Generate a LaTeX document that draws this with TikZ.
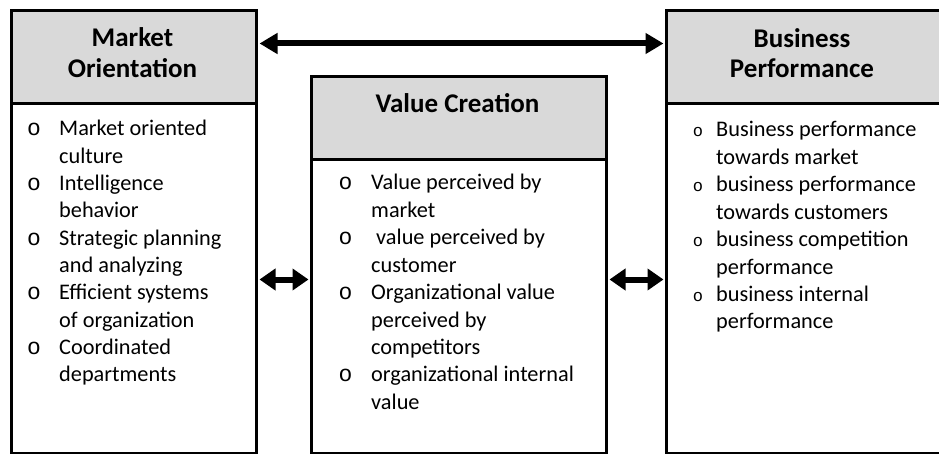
\documentclass[tikz,border=0pt]{standalone}
\usepackage{fontspec}
\setmainfont{Carlito}
\newfontfamily\bulletfont{Liberation Mono}
\usetikzlibrary{arrows.meta}
\definecolor{hdrgray}{HTML}{D9D9D9}
\begin{document}
\begin{tikzpicture}[x=1pt,y=-1pt,
  frame/.style={draw=black,line width=3pt,fill=white,inner sep=0pt,anchor=north west},
  hdr/.style={frame,fill=hdrgray},
  hdrtext/.style={font=\bfseries\fontsize{27}{31}\selectfont,inner sep=0pt,anchor=base},
  bodytext/.style={font=\fontsize{22.3}{27.4}\selectfont,inner sep=0pt,anchor=base west},
  bul/.style={font=\bulletfont\fontsize{23}{23}\selectfont,inner sep=0pt,anchor=base},
  bulsmall/.style={bul,font=\bulletfont\fontsize{17}{17}\selectfont},
  link/.style={line width=6pt,{Triangle[length=16pt,width=21pt]}-{Triangle[length=16pt,width=21pt]},shorten <=1.5pt,shorten >=1.5pt},
  toplink/.style={line width=6pt,{Triangle[length=18pt,width=20pt]}-{Triangle[length=18pt,width=20pt]},shorten <=1.5pt,shorten >=1.5pt}
]
\clip (0,0) rectangle (939,454);
\useasboundingbox (0,0) rectangle (939,454);
\fill[white] (0,0) rectangle (939,454);

% boxes
\node[frame,minimum width=245pt,minimum height=443pt] (mo) at (10,9) {};
\node[hdr,minimum width=245pt,minimum height=93pt] (moh) at (10,9) {};
\node[frame,minimum width=295pt,minimum height=377pt] (vc) at (310,75) {};
\node[hdr,minimum width=295pt,minimum height=83pt] (vch) at (310,75) {};
\node[frame,minimum width=285pt,minimum height=443pt] (bp) at (665,9) {};
\node[hdr,minimum width=285pt,minimum height=93pt] (bph) at (665,9) {};

% headers
\node[hdrtext] (mot1) at (132.5,47) {Market};
\node[hdrtext] (mot2) at (132.5,78) {Orientation};
\node[hdrtext] (vct1) at (457.5,113) {Value Creation};
\node[hdrtext] (bpt1) at (802,48) {Business};
\node[hdrtext] (bpt2) at (802,78) {Performance};

% left list
\foreach \b/\txt [count=\i from 0] in {1/Market oriented,0/culture,1/Intelligence,0/behavior,1/Strategic planning,0/and analyzing,1/Efficient systems,0/of organization,1/Coordinated,0/departments}{
  \node[bodytext] (mol\i) at (59,136+27.3*\i) {\txt};
  \ifnum\b=1 \node[bul] (mob\i) at (34,136+27.3*\i) {o};\fi
}
% middle list
\foreach \b/\txt [count=\i from 0] in {1/Value perceived by,0/market,1/\hspace*{5pt}value perceived by,0/customer,1/Organizational value,0/perceived by,0/competitors,1/organizational internal,0/value}{
  \node[bodytext] (vcl\i) at (371,190+27.4*\i) {\txt};
  \ifnum\b=1 \node[bul] (vcb\i) at (345.5,190+27.4*\i) {o};\fi
}
% right list
\foreach \b/\txt [count=\i from 0] in {1/Business performance,0/towards market,1/business performance,0/towards customers,1/business competition,0/performance,1/business internal,0/performance}{
  \node[bodytext] (bpl\i) at (716,137+27.4*\i) {\txt};
  \ifnum\b=1 \node[bulsmall] (bpb\i) at (698,137+27.4*\i) {o};\fi
}

% connectors
\coordinate (toprow) at (0,43.5);
\coordinate (midrow) at (0,279.5);
\draw[toplink] (mo.east |- toprow) -- (bp.west |- toprow);
\draw[link] (mo.east |- midrow) -- (vc.west |- midrow);
\draw[link] (vc.east |- midrow) -- (bp.west |- midrow);
\end{tikzpicture}
\end{document}
